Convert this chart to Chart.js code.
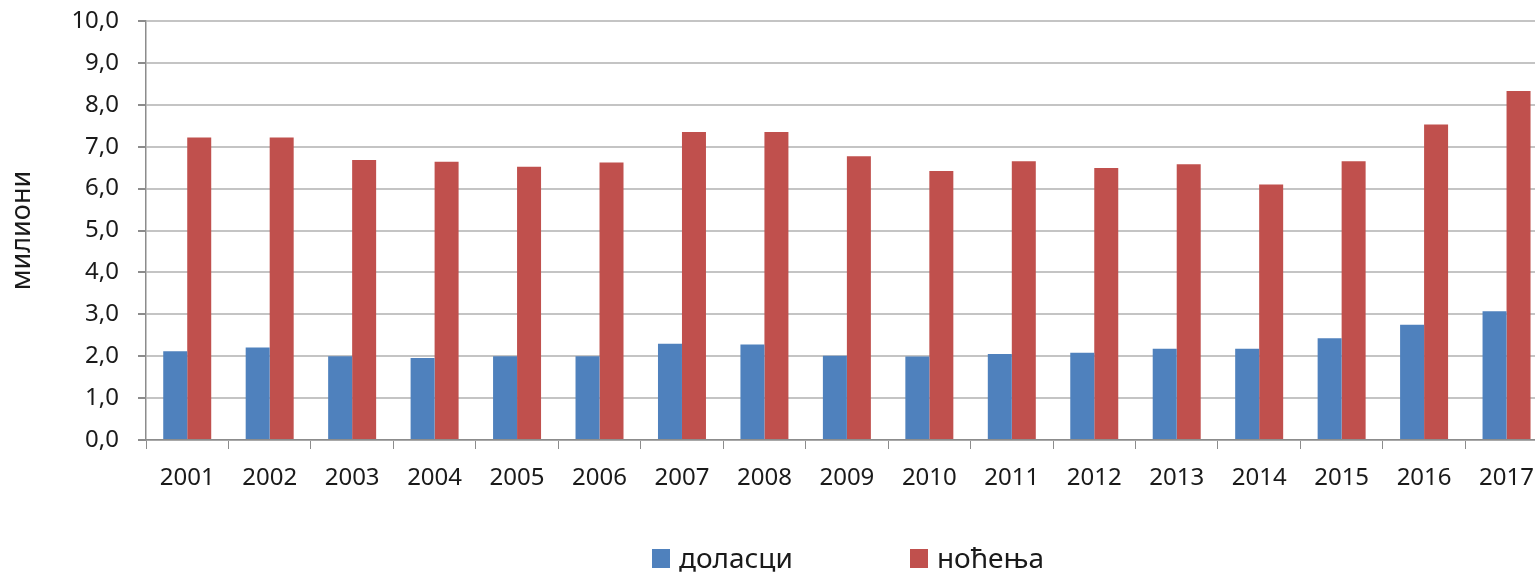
<!DOCTYPE html>
<html>
<head>
<meta charset="utf-8">
<script src="https://cdn.jsdelivr.net/npm/chart.js@4/dist/chart.umd.min.js"></script>
<style>
    html, body { margin: 0; padding: 0; background: #fff; overflow: hidden; width: 1535px; height: 573px; }
    #wrap { position: relative; width: 1549px; height: 573px; }
    #legend {
        position: absolute; top: 543px; left: 147px; width: 1402px;
        display: flex; justify-content: center; gap: 117px;
        font-family: "Noto Sans", sans-serif; font-size: 28px; line-height: 28px; color: #1a1a1a;
    }
    #legend span.box { display: inline-block; width: 18px; height: 19px; margin-right: 9px; }
</style>
</head>
<body>
<div id="wrap">
    <canvas id="chart" width="1549" height="573"></canvas>
    <div id="legend"></div>
</div>
<script>
const years = ['2001', '2002', '2003', '2004', '2005', '2006', '2007', '2008', '2009',
    '2010', '2011', '2012', '2013', '2014', '2015', '2016', '2017'];
// доласци, у милионима
const arrivals = [2.12, 2.21, 2.00, 1.96, 2.00, 2.00, 2.30, 2.28, 2.01, 1.99, 2.05, 2.08, 2.18, 2.18, 2.43, 2.75, 3.07];
// ноћења, у милионима
const nights = [7.22, 7.22, 6.68, 6.64, 6.52, 6.62, 7.35, 7.35, 6.77, 6.42, 6.65, 6.49, 6.58, 6.10, 6.65, 7.53, 8.33];
const seriesNames = ['доласци', 'ноћења'];
const seriesColors = ['#4F81BD', '#C0504D'];
const yTitle = 'милиони';

const FONT = '"Noto Sans", sans-serif';
const TEXT = '#1a1a1a';
const AXIS = '#8c8c8c';

function commaFormat(v) {
    return v.toFixed(1).replace('.', ',');
}

const datasets = [arrivals, nights].map(function (values, i) {
    return {
        label: seriesNames[i],
        data: values,
        backgroundColor: seriesColors[i],
        borderWidth: 0,
        barPercentage: 1.0,
        categoryPercentage: 0.582
    };
});

const chart = new Chart(document.getElementById('chart').getContext('2d'), {
    type: 'bar',
    data: { labels: years, datasets: datasets },
    options: {
        responsive: false,
        animation: false,
        layout: { padding: { top: 21, left: 0, right: 0, bottom: 0 } },
        plugins: {
            legend: { display: false },
            tooltip: { enabled: false }
        },
        scales: {
            x: {
                afterFit: function (scale) { scale.height = 133; },
                grid: { drawOnChartArea: false, drawTicks: true, tickLength: 9, tickColor: AXIS, offset: true },
                border: { color: AXIS, width: 1.5 },
                ticks: { color: TEXT, padding: 15, font: { family: FONT, size: 24 }, maxRotation: 0, autoSkip: false }
            },
            y: {
                min: 0,
                max: 10,
                afterFit: function (scale) {
                    scale.width = 146;
                    // tick padding should not push the plot down
                    scale.paddingTop = 0;
                    scale.paddingBottom = 0;
                },
                grid: { color: '#c4c4c4', lineWidth: 2, tickLength: 8, tickColor: AXIS },
                border: { color: AXIS, width: 1.5 },
                ticks: {
                    stepSize: 1,
                    color: TEXT,
                    padding: 19,
                    font: { family: FONT, size: 24 },
                    callback: function (v) { return commaFormat(v); }
                },
                title: {
                    display: true,
                    text: yTitle,
                    color: TEXT,
                    padding: { top: 6, bottom: 0 },
                    font: { family: FONT, size: 27 }
                }
            }
        }
    }
});

// легенда испод графика
const legend = document.getElementById('legend');
chart.data.datasets.forEach(function (ds) {
    const item = document.createElement('div');
    const box = document.createElement('span');
    box.className = 'box';
    box.style.background = ds.backgroundColor;
    item.appendChild(box);
    item.appendChild(document.createTextNode(ds.label));
    legend.appendChild(item);
});
</script>
</body>
</html>
